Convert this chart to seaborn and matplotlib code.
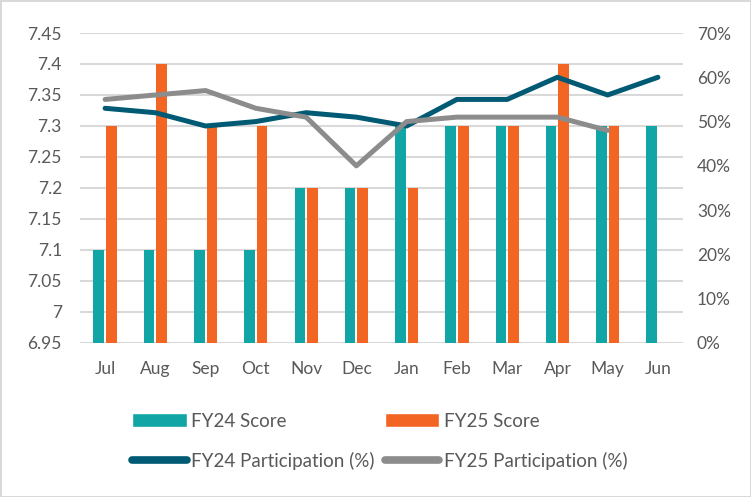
import numpy as np
import pandas as pd
import matplotlib
matplotlib.use("Agg")
import matplotlib.pyplot as plt
from matplotlib.lines import Line2D
from matplotlib.patches import Patch
from matplotlib.ticker import FixedLocator, PercentFormatter
import seaborn as sns

months = ["Jul", "Aug", "Sep", "Oct", "Nov", "Dec", "Jan", "Feb", "Mar", "Apr", "May", "Jun"]
fy24_score = [7.1, 7.1, 7.1, 7.1, 7.2, 7.2, 7.3, 7.3, 7.3, 7.3, 7.3, 7.3]
fy25_score = [7.3, 7.4, 7.3, 7.3, 7.2, 7.2, 7.2, 7.3, 7.3, 7.4, 7.3, np.nan]
fy24_part = [53, 52, 49, 50, 52, 51, 49, 55, 55, 60, 56, 60]
fy25_part = [55, 56, 57, 53, 51, 40, 50, 51, 51, 51, 48, np.nan]
left_ticks = [6.95, 7.0, 7.05, 7.1, 7.15, 7.2, 7.25, 7.3, 7.35, 7.4, 7.45]
right_ticks = [0, 10, 20, 30, 40, 50, 60, 70]

TEAL = "#12A5A5"
ORANGE = "#F26522"
DARK = "#005A73"
GREY = "#8C8C8C"
TEXT = "#595959"
GRID = "#D9D9D9"

sns.set_theme(style="white")
plt.rcParams["font.family"] = ["Lato", "DejaVu Sans"]

scores = pd.DataFrame({
    "Month": months * 2,
    "Score": fy24_score + fy25_score,
    "Series": ["FY24 Score"] * len(months) + ["FY25 Score"] * len(months),
})

fig = plt.figure(figsize=(7.51, 4.97), dpi=100)
fig.patch.set_facecolor("white")
fig.patch.set_edgecolor(GRID)
fig.patch.set_linewidth(2.0)
ax = fig.add_axes([0.1065, 0.3099, 0.803, 0.6237])

sns.barplot(data=scores, x="Month", y="Score", hue="Series", order=months,
            palette=[TEAL, ORANGE], width=0.5, gap=0.15, errorbar=None,
            saturation=1, legend=False, linewidth=0, ax=ax)

ax.set_ylim(6.95, 7.45)
ax.set_xlim(-0.5, len(months) - 0.5)
ax.yaxis.set_major_locator(FixedLocator(left_ticks))
ax.set_yticklabels([f"{t:g}" for t in left_ticks])
ax.grid(axis="y", color=GRID, linewidth=1.5)
ax.set_axisbelow(True)
ax.set_xlabel("")
ax.set_ylabel("")
for s in ax.spines.values():
    s.set_visible(False)
ax.tick_params(axis="both", length=0, labelsize=12.5, colors=TEXT)
ax.tick_params(axis="x", pad=13)
ax.tick_params(axis="y", pad=13)

ax2 = ax.twinx()
x = np.arange(len(months))
parts = pd.DataFrame({"x": x, "FY24": fy24_part, "FY25": fy25_part})
sns.lineplot(data=parts, x="x", y="FY24", color=DARK, linewidth=3.6,
             solid_capstyle="round", solid_joinstyle="round", ax=ax2)
sns.lineplot(data=parts.dropna(), x="x", y="FY25", color=GREY, linewidth=3.6,
             solid_capstyle="round", solid_joinstyle="round", ax=ax2)
ax2.set_ylim(0, 70)
ax2.yaxis.set_major_locator(FixedLocator(right_ticks))
ax2.yaxis.set_major_formatter(PercentFormatter(decimals=0))
ax2.set_xlabel("")
ax2.set_ylabel("")
for s in ax2.spines.values():
    s.set_visible(False)
ax2.tick_params(axis="y", length=0, labelsize=12.5, colors=TEXT, pad=10)
ax2.grid(False)
ax.set_xlim(-0.5, len(months) - 0.5)

handles = [
    Patch(facecolor=TEAL, label="FY24 Score"),
    Line2D([], [], color=DARK, linewidth=5.5, solid_capstyle="round", label="FY24 Participation (%)"),
    Patch(facecolor=ORANGE, label="FY25 Score"),
    Line2D([], [], color=GREY, linewidth=5.5, solid_capstyle="round", label="FY25 Participation (%)"),
]
leg = fig.legend(handles=handles, ncol=2, loc="center left",
                 bbox_to_anchor=(0.166, 0.112), frameon=False, fontsize=13.5,
                 handlelength=2.9, handleheight=0.75, handletextpad=0.25,
                 columnspacing=0.55, labelspacing=1.2, borderaxespad=0)
for t in leg.get_texts():
    t.set_color(TEXT)

fig.savefig("out.png", dpi=100, facecolor=fig.get_facecolor(), edgecolor=fig.get_edgecolor())
